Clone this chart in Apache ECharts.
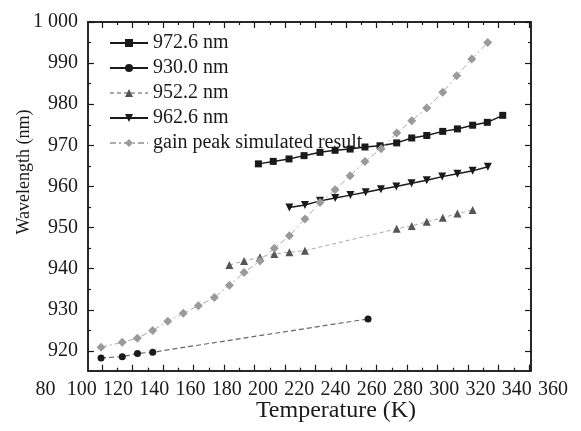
<!DOCTYPE html>
<html>
<head>
<meta charset="utf-8">
<script src="https://cdn.jsdelivr.net/npm/echarts@6/dist/echarts.min.js"></script>
<style>
html,body{margin:0;padding:0;background:#fff;}
#chart{width:581px;height:431px;}
</style>
</head>
<body>
<div id="chart"></div>
<script>
// ---- data (Temperature K, Wavelength nm) ----
const temp972 = [197.5,205.7,214.4,222.7,231.5,239.8,248.1,256.3,264.6,273.8,282.1,290.4,299.2,307.3,315.7,323.8,332.3];
const wl972   = [965.5,966.1,966.7,967.5,968.3,968.8,969.1,969.6,969.9,970.6,971.8,972.4,973.4,974.0,974.9,975.6,977.3];

const temp930 = [110.7,122.4,130.8,139.2,258.0];
const wl930   = [918.3,918.6,919.4,919.7,927.8];

const temp952 = [181.5,189.6,198.4,206.3,214.6,223.2,273.8,282.1,290.4,299.2,307.3,315.7];
const wl952   = [940.9,941.9,942.8,943.6,944.0,944.4,949.7,950.4,951.4,952.4,953.4,954.3];

const temp962 = [214.6,223.2,231.5,239.9,248.3,256.7,265.1,273.6,282.0,290.4,298.9,307.3,315.7,324.1];
const wl962   = [954.9,955.5,956.5,957.2,957.9,958.6,959.3,960.0,960.8,961.5,962.4,963.1,963.8,964.8];

const tempGain = [110.7,122.4,130.7,139.2,147.5,156.1,164.4,173.2,181.5,189.6,198.4,206.3,214.6,223.2,231.5,239.8,248.1,256.3,265.2,273.8,282.1,290.4,299.2,306.9,315.2,324.0];
const wlGain   = [920.9,922.1,923.1,925.0,927.2,929.2,931.0,933.0,936.0,939.1,941.9,945.0,948.0,952.1,956.1,959.2,962.6,966.1,969.2,973.0,976.0,979.1,982.9,986.9,991.0,995.0];

const xTickLabels = [80,100,120,140,160,180,200,220,240,260,280,300,320,340,360];
const yTickLabels = [920,930,940,950,960,970,980,990,1000];
const yMinorTicks = [925,935,945,955,965,975,985,995];

const seriesNames = ['972.6 nm','930.0 nm','952.2 nm','962.6 nm','gain peak simulated result'];

// tick marks of the frame (the printed tick marks are spaced differently from the labels)
const xMajorTicks = Array.from({length:15},(_,i)=>111.23+16.828*i);
const xMinorTicks = Array.from({length:14},(_,i)=>119.64+16.828*i);

function zip(a,b){return a.map((v,i)=>[v,b[i]]);}

const FONT = '"Liberation Serif", "Times New Roman", serif';
const INK = '#1a1a1a';
const XMIN = 103.5, XMAX = 347.9, YMIN = 915.2, YMAX = 1000;

function frameX(pos, ticks, len){
  return {gridIndex:0,type:'value',min:XMIN,max:XMAX,position:pos,
    axisLine:{show:true,onZero:false,lineStyle:{color:INK,width:1.5}},
    axisTick:{show:true,inside:true,length:len,customValues:ticks,lineStyle:{color:INK,width:1.2}},
    axisLabel:{show:false},splitLine:{show:false}};
}
function frameY(pos, ticks, len, labels){
  return {gridIndex:0,type:'value',min:YMIN,max:YMAX,position:pos,
    axisLine:{show:true,onZero:false,lineStyle:{color:INK,width:1.5}},
    axisTick:{show:true,inside:true,length:len,customValues:ticks,lineStyle:{color:INK,width:1.2}},
    axisLabel: labels ? {show:true,customValues:yTickLabels,fontFamily:FONT,fontSize:20,color:INK,margin:10,
      formatter:v=> v===1000 ? '1 000' : String(v)} : {show:false},
    splitLine:{show:false}};
}

const chart = echarts.init(document.getElementById('chart'));
chart.setOption({
  animation:false,
  backgroundColor:'#fff',
  grid:[
    {left:88,right:50,top:22,bottom:60.3},
    {left:45.4,right:28,top:22,bottom:60.3}
  ],
  xAxis:[
    frameX('bottom', xMajorTicks, 6),
    frameX('bottom', xMinorTicks, 3),
    frameX('top', xMajorTicks, 6),
    frameX('top', xMinorTicks, 3),
    {gridIndex:1,type:'value',min:80,max:360,interval:20,position:'bottom',
      axisLine:{show:false},axisTick:{show:false},splitLine:{show:false},
      axisLabel:{show:true,fontFamily:FONT,fontSize:20,color:INK,margin:9}}
  ],
  yAxis:[
    frameY('left', yTickLabels, 6, true),
    frameY('left', yMinorTicks, 3, false),
    frameY('right', yTickLabels, 6, false),
    frameY('right', yMinorTicks, 3, false),
    {gridIndex:1,type:'value',min:YMIN,max:YMAX,show:false}
  ],
  legend:{
    orient:'vertical',left:104,top:28,itemWidth:38,itemHeight:10,itemGap:5,
    textStyle:{fontFamily:FONT,fontSize:20,color:INK},
    data:[
      {name:seriesNames[0]},
      {name:seriesNames[1],lineStyle:{color:INK,width:1.8,type:'solid'}},
      {name:seriesNames[2]},
      {name:seriesNames[3]},
      {name:seriesNames[4]}
    ]
  },
  graphic:[
    {type:'text',x:336,y:411,style:{text:'Temperature (K)',font:'24px "Liberation Serif"',fill:INK,align:'center',verticalAlign:'middle'}},
    {type:'text',x:24,y:172,rotation:Math.PI/2,style:{text:'Wavelength (nm)',font:'18px "Liberation Serif"',fill:INK,align:'center',verticalAlign:'middle'}}
  ],
  series:[
    {name:seriesNames[0],type:'line',xAxisIndex:0,yAxisIndex:0,data:zip(temp972,wl972),
      symbol:'rect',symbolSize:7,lineStyle:{color:INK,width:1.5},itemStyle:{color:INK}},
    {name:seriesNames[1],type:'line',xAxisIndex:0,yAxisIndex:0,data:zip(temp930,wl930),
      symbol:'circle',symbolSize:7,lineStyle:{color:'#666',width:1.2,type:[5,3]},itemStyle:{color:INK}},
    {name:seriesNames[2],type:'line',xAxisIndex:0,yAxisIndex:0,data:zip(temp952,wl952),
      symbol:'triangle',symbolSize:8,lineStyle:{color:'#aaa',width:1,type:[4,3]},itemStyle:{color:'#555'}},
    {name:seriesNames[3],type:'line',xAxisIndex:0,yAxisIndex:0,data:zip(temp962,wl962),
      symbol:'path://M0,0L10,0L5,9Z',symbolSize:8,lineStyle:{color:INK,width:1.5},itemStyle:{color:INK}},
    {name:seriesNames[4],type:'line',xAxisIndex:0,yAxisIndex:0,data:zip(tempGain,wlGain),
      symbol:'diamond',symbolSize:9,lineStyle:{color:'#aaa',width:1,type:[6,3,2,3]},itemStyle:{color:'#9a9a9a'}}
  ]
});
</script>
</body>
</html>
